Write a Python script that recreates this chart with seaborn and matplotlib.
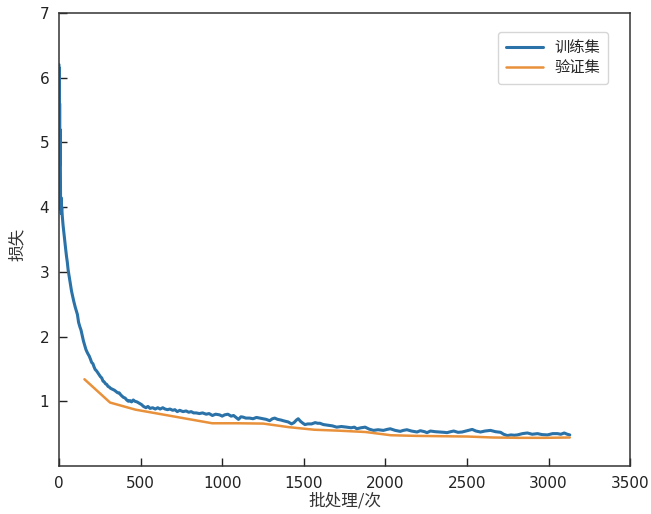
import matplotlib
matplotlib.use("Agg")
import matplotlib.pyplot as plt
import seaborn as sns
import pandas as pd

train_steps = [0, 1, 2, 3, 4, 5, 6, 7, 8, 10, 12, 14, 17, 20, 25, 30, 35, 41, 46, 51,
               56, 61, 66, 72, 77, 82, 90, 100, 106, 113, 120, 128, 135, 143, 150, 158,
               165, 172, 178, 185, 193, 200, 208, 215, 222, 230, 238, 246, 254, 262, 270,
               277, 285, 293, 300, 308, 316, 324, 332, 340, 350, 360, 369, 378, 386, 395,
               405, 415, 425, 435, 445, 455, 465, 478, 492, 505, 518, 533, 545, 558, 574,
               590, 605, 620, 636, 650, 665, 680, 697, 710, 725, 740, 760, 779, 795, 810,
               825, 841, 860, 880, 902, 920, 940, 960, 984, 1000, 1015, 1035, 1055, 1070,
               1087, 1100, 1115, 1128, 1145, 1168, 1189, 1210, 1230, 1250, 1270, 1291,
               1308, 1322, 1340, 1360, 1373, 1390, 1405, 1425, 1440, 1455, 1466, 1480,
               1495, 1507, 1525, 1548, 1570, 1585, 1599, 1620, 1650, 1675, 1702, 1730,
               1763, 1790, 1810, 1825, 1850, 1876, 1900, 1927, 1955, 1988, 2010, 2030,
               2060, 2091, 2110, 2132, 2160, 2194, 2214, 2240, 2255, 2276, 2305, 2337,
               2360, 2378, 2400, 2419, 2445, 2470, 2500, 2532, 2555, 2583, 2610, 2644,
               2675, 2706, 2725, 2747, 2770, 2790, 2809, 2840, 2870, 2900, 2932, 2960,
               2993, 3025, 3055, 3075, 3096, 3115, 3130]
train_loss = [6.20, 5.10, 6.15, 4.75, 5.60, 4.65, 5.20, 4.70, 4.90, 3.96, 4.15, 3.90, 4.00,
              3.87, 3.72, 3.60, 3.48, 3.35, 3.24, 3.15, 3.03, 2.95, 2.86, 2.78, 2.70, 2.64,
              2.55, 2.45, 2.40, 2.34, 2.22, 2.15, 2.10, 2.01, 1.93, 1.86, 1.80, 1.76, 1.73,
              1.70, 1.65, 1.60, 1.58, 1.53, 1.49, 1.47, 1.44, 1.41, 1.38, 1.36, 1.31, 1.30,
              1.27, 1.26, 1.23, 1.22, 1.20, 1.19, 1.18, 1.17, 1.15, 1.13, 1.13, 1.10, 1.08,
              1.06, 1.05, 1.02, 1.00, 1.01, 0.99, 1.02, 1.00, 0.99, 0.97, 0.95, 0.92, 0.90,
              0.92, 0.89, 0.90, 0.88, 0.90, 0.88, 0.90, 0.88, 0.87, 0.88, 0.86, 0.87, 0.84,
              0.86, 0.84, 0.85, 0.83, 0.84, 0.82, 0.82, 0.81, 0.82, 0.80, 0.81, 0.78, 0.80,
              0.79, 0.77, 0.79, 0.80, 0.77, 0.78, 0.745, 0.72, 0.76, 0.755, 0.74, 0.74, 0.73,
              0.75, 0.74, 0.73, 0.72, 0.70, 0.73, 0.74, 0.72, 0.71, 0.70, 0.69, 0.68, 0.65,
              0.67, 0.71, 0.73, 0.69, 0.66, 0.64, 0.65, 0.65, 0.67, 0.66, 0.66, 0.64, 0.63,
              0.62, 0.60, 0.61, 0.60, 0.59, 0.60, 0.575, 0.59, 0.60, 0.57, 0.55, 0.56, 0.55,
              0.565, 0.575, 0.55, 0.535, 0.55, 0.56, 0.54, 0.525, 0.545, 0.53, 0.515, 0.54,
              0.53, 0.525, 0.52, 0.515, 0.53, 0.54, 0.52, 0.525, 0.545, 0.565, 0.54, 0.525,
              0.54, 0.55, 0.53, 0.52, 0.49, 0.47, 0.48, 0.475, 0.48, 0.50, 0.51, 0.49, 0.50,
              0.485, 0.48, 0.50, 0.50, 0.49, 0.51, 0.49, 0.48]

val_steps = [156, 313, 469, 626, 782, 939, 1095, 1252, 1408, 1565, 1721, 1878, 2034,
             2191, 2347, 2504, 2660, 2817, 2973, 3130]
val_loss = [1.34, 0.98, 0.87, 0.80, 0.73, 0.66, 0.66, 0.655, 0.60, 0.56, 0.545, 0.525,
            0.475, 0.465, 0.46, 0.455, 0.44, 0.435, 0.435, 0.44]

x_ticks = [0, 500, 1000, 1500, 2000, 2500, 3000, 3500]
y_ticks = [1, 2, 3, 4, 5, 6, 7]
series_names = ["训练集", "验证集"]
x_label = "批处理/次"
y_label = "损失"

sns.set_style("ticks")
plt.rcParams["font.family"] = ["Noto Sans CJK SC", "DejaVu Sans"]
plt.rcParams["axes.unicode_minus"] = False

fig = plt.figure(figsize=(6.51, 5.14), dpi=100)
ax = fig.add_axes([0.0906, 0.0934, 0.8774, 0.8816])

df_train = pd.DataFrame({"step": train_steps, "loss": train_loss})
df_val = pd.DataFrame({"step": val_steps, "loss": val_loss})

sns.lineplot(data=df_train, x="step", y="loss", ax=ax, color="#2a72a8",
             linewidth=2.2, label=series_names[0])
sns.lineplot(data=df_val, x="step", y="loss", ax=ax, color="#e8913a",
             linewidth=1.8, label=series_names[1])

ax.set_xlim(0, 3500)
ax.set_ylim(0, 7)
ax.set_xticks(x_ticks)
ax.set_yticks(y_ticks)
ax.set_xticklabels([str(t) for t in x_ticks], fontfamily="DejaVu Sans")
ax.set_yticklabels([str(t) for t in y_ticks], fontfamily="DejaVu Sans")
ax.tick_params(direction="in", length=6, width=1, labelsize=11, pad=7,
               colors="#222222", labelcolor="#222222",
               bottom=True, left=True, top=False, right=False)
for s in ax.spines.values():
    s.set_color("#333333")
    s.set_linewidth(1.1)

ax.set_xlabel(x_label, fontsize=12, color="#333333", labelpad=1)
ax.set_ylabel(y_label, fontsize=12, color="#333333")
ax.yaxis.set_label_coords(-0.058, 0.49)

leg = ax.legend(loc="upper right", fontsize=11, frameon=True,
                bbox_to_anchor=(0.975, 0.975), handlelength=2.4,
                borderpad=0.5, labelspacing=0.2)
leg.get_frame().set_edgecolor("#cccccc")

fig.savefig("out.png", dpi=100)
